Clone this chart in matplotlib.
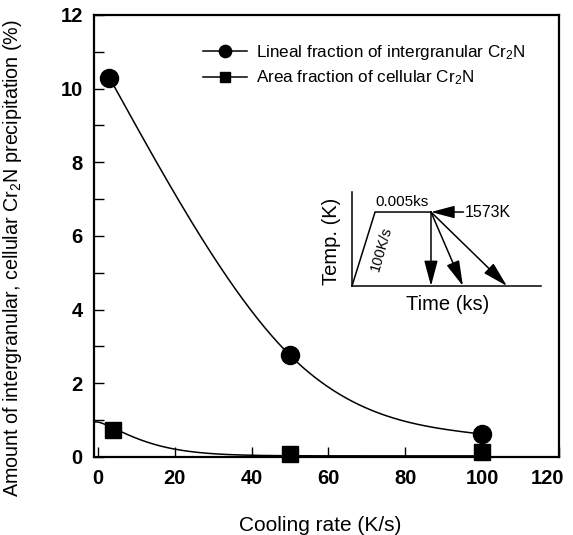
import numpy as np
import matplotlib
matplotlib.use('Agg')
import matplotlib.pyplot as plt
import matplotlib.transforms as mtransforms
from matplotlib.ticker import MultipleLocator

plt.rcParams['font.family'] = ['Liberation Sans', 'DejaVu Sans']
plt.rcParams['mathtext.fontset'] = 'custom'
plt.rcParams['mathtext.rm'] = 'Liberation Sans'
plt.rcParams['mathtext.it'] = 'Liberation Sans:italic'
plt.rcParams['mathtext.bf'] = 'Liberation Sans:bold'

# data
rate_lineal = [3, 50, 100]
lineal = [10.3, 2.76, 0.62]
rate_area = [4, 50, 100]
area = [0.73, 0.08, 0.14]

# schematic heat treatment of the inset (normalised time / temperature)
ht_time = [0.0, 0.122, 0.418]
ht_temp = [0.0, 0.787, 0.787]
cool_end = [0.418, 0.587, 0.820]


def natural_spline(xs, ys, xx):
    # plain natural cubic spline, used only for the guide line
    xs = np.asarray(xs, float)
    ys = np.asarray(ys, float)
    n = len(xs)
    h = np.diff(xs)
    A = np.zeros((n, n))
    r = np.zeros(n)
    A[0, 0] = A[-1, -1] = 1
    for i in range(1, n - 1):
        A[i, i - 1] = h[i - 1]
        A[i, i] = 2 * (h[i - 1] + h[i])
        A[i, i + 1] = h[i]
        r[i] = 6 * ((ys[i + 1] - ys[i]) / h[i] - (ys[i] - ys[i - 1]) / h[i - 1])
    M = np.linalg.solve(A, r)
    out = np.empty_like(xx)
    for j, x in enumerate(xx):
        i = min(max(np.searchsorted(xs, x) - 1, 0), n - 2)
        t0, t1 = x - xs[i], xs[i + 1] - x
        out[j] = (M[i] * t1 ** 3 + M[i + 1] * t0 ** 3) / (6 * h[i]) \
            + (ys[i] / h[i] - M[i] * h[i] / 6) * t1 \
            + (ys[i + 1] / h[i] - M[i + 1] * h[i] / 6) * t0
    return out


fig = plt.figure(figsize=(5.73, 5.35), dpi=100)
ax = fig.add_axes([0.164, 0.1458, 0.8116, 0.8262])

xx = np.linspace(rate_lineal[0], rate_lineal[-1], 300)
ax.plot(xx, natural_spline(rate_lineal, lineal, xx), color='k', lw=1.1)
xa = np.linspace(-1, 100, 300)
ax.plot(xa, 0.03 + 0.92 * np.exp(-(np.clip(xa, 0, None) / 13.9) ** 1.31),
        color='k', lw=1.1)

ax.plot(rate_lineal, lineal, 'o', color='k', ms=13, clip_on=False, zorder=5)
ax.plot(rate_area, area, 's', color='k', ms=11.5, clip_on=False, zorder=5)

# legend handles
h1, = ax.plot([], [], '-o', color='k', lw=1.1, ms=13)
h2, = ax.plot([], [], '-s', color='k', lw=1.1, ms=11.5)
fig.legend([h1, h2],
           ['Lineal fraction of intergranular Cr$_2$N',
            'Area fraction of cellular Cr$_2$N'],
           loc='center left', bbox_to_anchor=(203 / 573, 1 - 65 / 535),
           frameon=False, fontsize=12.3, handlelength=2.6, handletextpad=0.5,
           labelspacing=0.4, borderpad=0, borderaxespad=0, markerscale=0.68)

ax.set_xlim(-1, 120)
ax.set_ylim(0, 12)
ax.xaxis.set_major_locator(MultipleLocator(20))
ax.yaxis.set_major_locator(MultipleLocator(2))
ax.yaxis.set_minor_locator(MultipleLocator(1))
ax.tick_params(which='both', direction='in', length=7, width=1,
               top=False, right=False, labelsize=14.5)
ax.tick_params(axis='y', pad=8)
ax.tick_params(axis='x', pad=9)
fig.canvas.draw()
xlabels = ax.get_xticklabels()
for lab in xlabels + ax.get_yticklabels():
    lab.set_fontweight('bold')
# the last x label sits left of its tick in the original
last = [lab for lab in xlabels if lab.get_text() == '120']
if last:
    last[0].set_transform(last[0].get_transform() + mtransforms.ScaledTranslation(
        -12 / 100, 0, fig.dpi_scale_trans))
for s in ax.spines.values():
    s.set_linewidth(1.6)

ax.set_xlabel('Cooling rate (K/s)', fontsize=15)
ax.xaxis.set_label_coords(0.486, -0.133)
ax.set_ylabel('Amount of intergranular, cellular Cr$_2$N precipitation (%)',
              fontsize=14.2)
ax.yaxis.set_label_coords(-0.15, 0.45)

# inset: heat treatment schematic
ins = fig.add_axes([0.6143, 0.4654, 0.3298, 0.1757])
ins.set_xlim(0, 1)
ins.set_ylim(0, 1)
ins.patch.set_alpha(0)
ins.set_xticks([])
ins.set_yticks([])
for side in ['top', 'right']:
    ins.spines[side].set_visible(False)
for side in ['left', 'bottom']:
    ins.spines[side].set_linewidth(1.1)
ins.plot(ht_time, ht_temp, color='k', lw=1.1, clip_on=False)
head = '-|>,head_length=1.2,head_width=0.32'
for xe in cool_end:
    ins.annotate('', xy=(xe, 0.0), xytext=(ht_time[-1], ht_temp[-1]),
                 arrowprops=dict(arrowstyle=head, mutation_scale=13,
                                 color='k', lw=1.1, shrinkA=0, shrinkB=0))
ins.annotate('', xy=(ht_time[-1], ht_temp[-1]), xytext=(0.59, ht_temp[-1]),
             arrowprops=dict(arrowstyle=head, mutation_scale=12,
                             color='k', lw=1.1, shrinkA=0, shrinkB=0))
ins.text(0.595, ht_temp[-1], '1573K', fontsize=11.5, ha='left', va='center')
ins.text(0.262, 0.82, '0.005ks', fontsize=11, ha='center', va='bottom')
ins.text(0.155, 0.40, '100K/s', fontsize=10.5, ha='center', va='center',
         rotation=74)
ins.text(-0.106, 0.47, 'Temp. (K)', fontsize=14.5, ha='center', va='center',
         rotation=90)
ins.text(0.508, -0.20, 'Time (ks)', fontsize=14.5, ha='center', va='center')

fig.savefig('out.png', dpi=100)
